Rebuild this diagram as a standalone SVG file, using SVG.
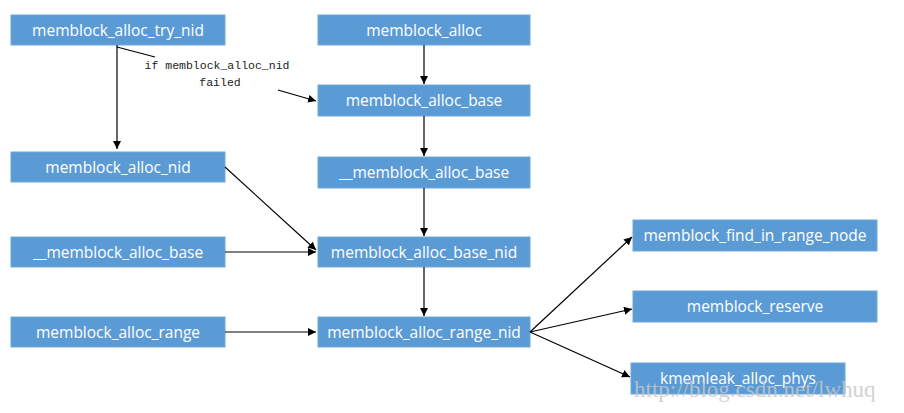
<svg xmlns="http://www.w3.org/2000/svg" width="904" height="413" viewBox="0 0 904 413">
<style>
.b{fill:#5b9bd5;stroke:#6fa8dc;stroke-width:1}
.t{font-family:"Open Sans","Liberation Sans",sans-serif;font-size:15.5px;fill:#fff;text-anchor:middle;dominant-baseline:central}
.c{stroke:#000;stroke-width:1.2;fill:none}
.l{font-family:"Liberation Mono",monospace;font-size:11.5px;fill:#222;text-anchor:middle}
</style>
<defs><marker id="a" viewBox="0 0 10 10" refX="10" refY="5" markerWidth="8" markerHeight="8" orient="auto" markerUnits="userSpaceOnUse"><path d="M0,0L10,5L0,10z" fill="#000"/></marker></defs>
<rect width="904" height="413" fill="#fff"/>
<g id="n1"><rect class="b" x="11" y="15" width="214" height="30"/><text class="t" x="118" y="30">memblock_alloc_try_nid</text></g>
<g id="n2"><rect class="b" x="318" y="15" width="212" height="30"/><text class="t" x="424" y="30">memblock_alloc</text></g>
<g id="n3"><rect class="b" x="318" y="85" width="212" height="31"/><text class="t" x="424" y="100">memblock_alloc_base</text></g>
<g id="n4"><rect class="b" x="318" y="157" width="212" height="31"/><text class="t" x="424" y="172">__memblock_alloc_base</text></g>
<g id="n5"><rect class="b" x="318" y="237" width="212" height="30"/><text class="t" x="424" y="252">memblock_alloc_base_nid</text></g>
<g id="n6"><rect class="b" x="318" y="317" width="212" height="30"/><text class="t" x="424" y="332">memblock_alloc_range_nid</text></g>
<g id="n7"><rect class="b" x="11" y="152" width="214" height="30"/><text class="t" x="118" y="167">memblock_alloc_nid</text></g>
<g id="n8"><rect class="b" x="11" y="237" width="214" height="30"/><text class="t" x="118" y="252">__memblock_alloc_base</text></g>
<g id="n9"><rect class="b" x="11" y="317" width="214" height="30"/><text class="t" x="118" y="332">memblock_alloc_range</text></g>
<g id="n10"><rect class="b" x="633" y="220" width="244" height="31"/><text class="t" x="755" y="235">memblock_find_in_range_node</text></g>
<g id="n11"><rect class="b" x="633" y="291" width="244" height="31"/><text class="t" x="755" y="306">memblock_reserve</text></g>
<g id="n12"><rect class="b" x="631" y="363" width="214" height="31"/><text class="t" x="738" y="378">kmemleak_alloc_phys</text></g>
<g id="edges">
<path class="c" d="M117,45V149" marker-end="url(#a)"/>
<path class="c" d="M117,47L155,57"/>
<path class="c" d="M278,90L316,101" marker-end="url(#a)"/>
<path class="c" d="M424,45V84" marker-end="url(#a)"/>
<path class="c" d="M424,116V156" marker-end="url(#a)"/>
<path class="c" d="M424,188V236" marker-end="url(#a)"/>
<path class="c" d="M424,267V316" marker-end="url(#a)"/>
<path class="c" d="M225,167L316,250" marker-end="url(#a)"/>
<path class="c" d="M225,252H316" marker-end="url(#a)"/>
<path class="c" d="M225,332H316" marker-end="url(#a)"/>
<path class="c" d="M530,332L632,237" marker-end="url(#a)"/>
<path class="c" d="M530,332L632,309" marker-end="url(#a)"/>
<path class="c" d="M530,332L630,377" marker-end="url(#a)"/>
</g>
<text class="l" x="217" y="69">if memblock_alloc_nid</text>
<text class="l" x="220" y="86">failed</text>
<text x="634" y="397" style="font-family:'Liberation Serif',serif;font-size:23px;fill:#c8c8c8;opacity:0.8">http://blog.csdn.net/lwhuq</text>
</svg>
